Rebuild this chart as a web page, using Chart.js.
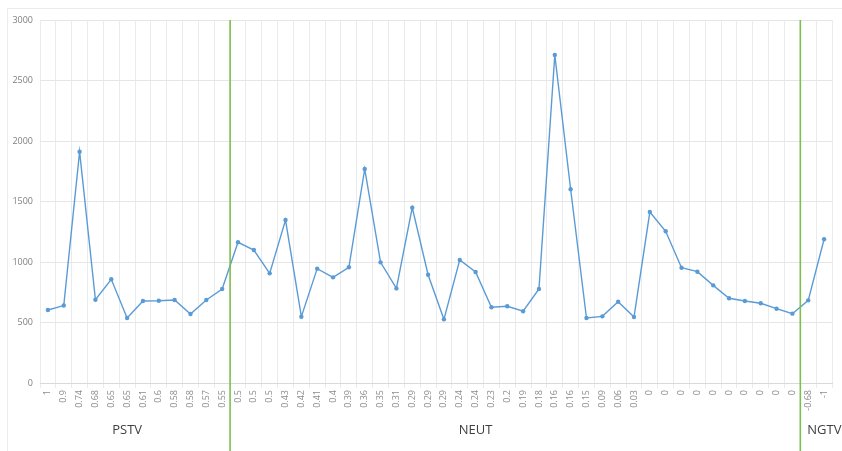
<!DOCTYPE html>
<html>
<head>
<meta charset="utf-8">
<script src="https://cdn.jsdelivr.net/npm/chart.js@4.4.1/dist/chart.umd.min.js"></script>
<style>
html,body{margin:0;padding:0;background:#fff;}
#wrap{position:relative;width:842px;height:451px;}
#frame{position:absolute;left:7px;top:8px;width:845px;height:460px;border:1px solid #ececec;box-sizing:border-box;pointer-events:none;}
canvas{position:absolute;left:0;top:0;}
</style>
</head>
<body>
<div id="wrap"><div id="frame"></div><canvas id="c" width="842" height="451"></canvas></div>
<script>
const categories = ["1","0.9","0.74","0.68","0.65","0.65","0.61","0.6","0.58","0.58","0.57","0.55",
  "0.5","0.5","0.5","0.43","0.42","0.41","0.4","0.39","0.36","0.35","0.31","0.29","0.29","0.29",
  "0.24","0.24","0.23","0.2","0.19","0.18","0.16","0.16","0.15","0.09","0.06","0.03",
  "0","0","0","0","0","0","0","0","0","0","-0.68","-1"];
const values = [603,640,1911,688,857,537,678,680,686,570,686,777,
  1163,1099,906,1347,548,945,873,956,1769,997,782,1449,895,526,
  1017,917,626,634,593,777,2711,1601,537,551,672,545,
  1413,1254,953,920,807,700,678,659,614,573,683,1188];
const yTicks = [0,500,1000,1500,2000,2500,3000];
const groupNames = ["PSTV","NEUT","NGTV"];
const groupStart = [0,12,48];   // first category index of each group
const groupLabelAt = [5,27,48]; // category index where the group label sits
const groupAlign = ["center","center","left"];

const groupPlugin = {
  id:'groups',
  afterDatasetsDraw(chart){
    const {ctx, scales:{x,y}} = chart;
    ctx.save();
    ctx.strokeStyle = '#7cbf4e';
    ctx.lineWidth = 1.6;
    for (let g=1; g<groupStart.length; g++){
      const i = groupStart[g];
      const px = (x.getPixelForValue(i-1) + x.getPixelForValue(i))/2;
      ctx.beginPath();
      ctx.moveTo(px, y.getPixelForValue(3000));
      ctx.lineTo(px, chart.height);
      ctx.stroke();
    }
    ctx.fillStyle = '#404040';
    ctx.font = '13px "Open Sans", sans-serif';
    ctx.textBaseline = 'middle';
    for (let g=0; g<groupNames.length; g++){
      let px = x.getPixelForValue(groupLabelAt[g]);
      ctx.textAlign = groupAlign[g];
      if (groupAlign[g]==='left') px = px - 1;
      ctx.fillText(groupNames[g], px, 430);
    }
    ctx.restore();
  }
};

new Chart(document.getElementById('c'), {
  type:'line',
  data:{labels:categories, datasets:[{
    data:values,
    borderColor:'#5b9bd5',
    backgroundColor:'#5b9bd5',
    borderWidth:1.4,
    pointRadius:2.2,
    pointBorderWidth:0,
    tension:0
  }]},
  options:{
    responsive:false,
    animation:false,
    layout:{padding:{left:0,right:10,top:20,bottom:30}},
    plugins:{legend:{display:false},tooltip:{enabled:false}},
    scales:{
      x:{
        offset:true,
        grid:{offset:true,color:'#e9ecee',lineWidth:1,drawTicks:true,tickLength:5},
        border:{color:'#d9d9d9'},
        ticks:{maxRotation:90,minRotation:90,autoSkip:false,color:'#8c8c8c',font:{family:'"Open Sans", sans-serif',size:9},padding:2},
        afterFit(s){ s.height = 38; }
      },
      y:{
        min:0,max:3000,
        afterBuildTicks(s){ s.ticks = yTicks.map(v=>({value:v})); },
        grid:{color:'#e6e6e6',drawTicks:false},
        border:{display:false},
        ticks:{color:'#7f7f7f',font:{family:'"Open Sans", sans-serif',size:9},padding:7,callback:(v)=>String(v)},
        afterFit(s){ s.width = 40; }
      }
    }
  },
  plugins:[groupPlugin]
});
</script>
</body>
</html>
